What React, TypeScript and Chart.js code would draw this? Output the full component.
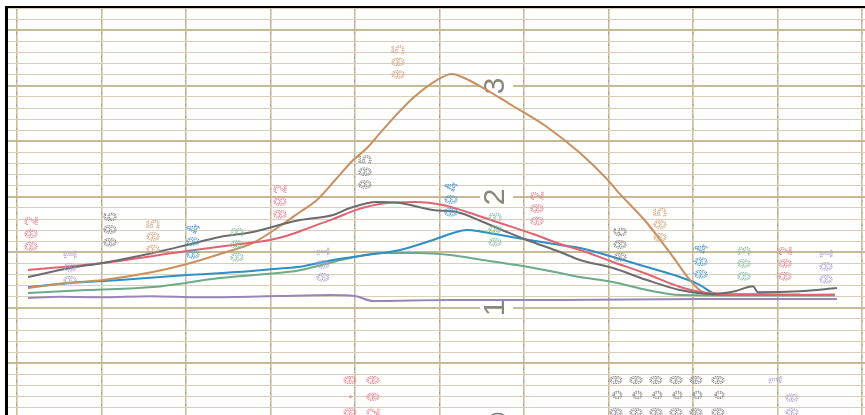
import React, { useEffect, useRef } from "react";
import { Chart, registerables } from "chart.js";

Chart.register(...registerables);

// x in chart-paper major divisions, y in minor divisions above the base line
const orangeX = [0.13, 0.592, 1.018, 1.609, 2.012, 2.402, 2.793, 3.112, 3.349, 3.55, 3.763, 3.976, 4.142, 4.296, 4.686, 4.97, 5.148, 5.266, 5.479, 5.87, 6.272, 6.663, 6.982, 7.101, 7.456, 7.763, 7.964, 8.118, 8.26, 8.793, 9.266];
const orangeY = [0.79, 1.24, 1.51, 2.23, 2.95, 3.86, 4.85, 6.38, 7.64, 8.72, 10.5, 12.3, 13.4, 14.75, 17.9, 19.53, 20.07, 19.8, 18.99, 17.19, 15.3, 12.95, 10.6, 9.55, 6.65, 3.59, 1.51, 0.43, 0.3, 0.25, 0.2];

const redX = [0.13, 1.018, 2.012, 2.556, 2.994, 3.195, 3.349, 3.503, 3.74, 4.024, 4.331, 4.71, 5.041, 5.325, 5.716, 6.107, 6.426, 6.663, 7.053, 7.456, 7.846, 8.083, 8.32, 9.03, 9.68];
const redY = [2.41, 3.05, 4.13, 4.67, 5.12, 5.5, 5.9, 6.35, 7.0, 7.85, 8.4, 8.54, 8.27, 7.64, 6.65, 5.66, 4.76, 4.22, 3.14, 2.05, 0.88, 0.43, 0.16, 0.16, 0.2];

const grayX = [0.13, 0.627, 1.018, 1.609, 2.012, 2.402, 2.793, 3.195, 3.349, 3.74, 3.941, 4.26, 4.533, 4.923, 5.207, 5.515, 5.799, 6.036, 6.426, 6.663, 7.053, 7.456, 7.846, 8.237, 8.497, 8.71, 8.769, 9.266, 9.704];
const grayY = [1.78, 2.59, 3.05, 3.95, 4.67, 5.39, 5.84, 6.65, 6.92, 7.37, 8.0, 8.54, 8.45, 7.82, 7.64, 6.74, 5.84, 5.12, 4.04, 3.32, 2.59, 1.51, 0.61, 0.25, 0.5, 0.95, 0.4, 0.5, 0.79];

const blueX = [0.13, 0.627, 1.219, 2.012, 2.604, 3.112, 3.349, 3.74, 4.142, 4.533, 4.923, 5.16, 5.325, 5.515, 5.917, 6.426, 6.663, 7.053, 7.456, 7.846, 8.083, 8.237, 8.438, 9.03];
const blueY = [0.88, 1.24, 1.51, 1.96, 2.23, 2.55, 2.7, 3.32, 3.77, 4.22, 5.12, 5.75, 6.02, 5.84, 5.3, 4.67, 4.4, 3.59, 2.68, 1.78, 1.06, 0.34, 0.16, 0.16];

const greenX = [0.13, 0.828, 1.609, 2.402, 3.195, 3.349, 3.941, 4.331, 4.734, 5.124, 5.515, 5.917, 6.426, 6.663, 7.053, 7.456, 7.846, 8.793, 9.68];
const greenY = [0.34, 0.61, 0.88, 1.69, 2.23, 2.4, 3.5, 3.95, 3.95, 3.77, 3.32, 2.86, 2.14, 1.78, 1.33, 0.61, 0.16, 0.12, 0.12];

const purpleX = [0.13, 0.509, 0.982, 1.574, 2.166, 2.757, 3.112, 3.704, 4.0, 4.213, 5.124, 6.426, 8.083, 9.704];
const purpleY = [-0.1, 0.0, -0.05, 0.05, -0.05, 0.0, 0.07, 0.16, 0.07, -0.38, -0.29, -0.29, -0.2, -0.2];

// grid ticks
const xTicks = [0, 1, 2, 3, 4, 5, 6, 7, 8, 9, 10];
const yTicks = Array.from({ length: 37 }, (_, i) => i - 10);

// pen labels printed along the trace
const labelText = ["002", "001", "006", "005", "004", "003", "002", "001", "005", "005", "004", "003", "002", "006", "005", "004", "003", "002", "001"];
const labelX = [0.19, 0.65, 1.12, 1.63, 2.11, 2.62, 3.14, 3.64, 4.14, 4.53, 5.16, 5.68, 6.17, 7.16, 7.63, 8.12, 8.62, 9.11, 9.6];
const labelY = [5.83, 2.77, 6.2, 5.57, 5.12, 4.85, 8.72, 3.04, 11.4, 21.3, 8.9, 6.2, 8.1, 4.85, 6.65, 3.3, 3.13, 3.13, 2.86];
const labelPen = ["red", "purple", "gray", "orange", "blue", "green", "red", "purple", "gray", "orange", "blue", "green", "red", "gray", "orange", "blue", "green", "red", "purple"];

// range numbers
const rangeText = ["3", "2", "1"];
const rangeX = [5.67, 5.67, 5.67];
const rangeY = [19, 9, -1];

// printed stamps at the bottom
const stampText = ["0", "0", "0", "0", "0", "0", "o", "o", "o", "o", "o", "o", "0", "0", "0", "0", "0", "0", "0", "·", "0", "0", "0", "2", "1", "0", "0"];
const stampX = [7.11, 7.35, 7.59, 7.82, 8.06, 8.32, 7.11, 7.35, 7.59, 7.82, 8.06, 8.32, 7.11, 7.35, 7.59, 7.82, 8.06, 8.32, 3.96, 3.96, 3.96, 4.24, 4.24, 4.24, 9.0, 9.2, 9.2];
const stampY = [-7.5, -7.5, -7.5, -7.5, -7.5, -7.5, -8.85, -8.85, -8.85, -8.85, -8.85, -8.85, -10.4, -10.4, -10.4, -10.4, -10.4, -10.4, -7.5, -9.0, -10.4, -7.5, -9.0, -10.4, -7.5, -9.1, -10.4];
const stampPen = ["gray", "gray", "gray", "gray", "gray", "gray", "gray", "gray", "gray", "gray", "gray", "gray", "gray", "gray", "gray", "gray", "gray", "gray", "red", "red", "red", "red", "red", "red", "purple", "purple", "purple"];

const penColor: Record<string, string> = {
  orange: "#c98f5f",
  red: "#e2636f",
  gray: "#6c6c70",
  blue: "#2f8fc8",
  green: "#6cab88",
  purple: "#9886b8",
};
const labelColor: Record<string, string> = {
  orange: "#d4a27a",
  red: "#e8828e",
  gray: "#85858a",
  blue: "#4a9bcc",
  green: "#86bd9f",
  purple: "#ae9fcc",
};

const X_MIN = -0.1065;
const X_MAX = 10.0355;
const Y_MIN = -10.649;
const Y_MAX = 26.018;

const pts = (xs: number[], ys: number[]) => xs.map((x, i) => ({ x, y: ys[i] }));

function drawRotated(ctx: CanvasRenderingContext2D, text: string, px: number, py: number, font: string, color: string, dotted: boolean, spacing: string) {
  ctx.save();
  ctx.translate(px, py);
  ctx.rotate(-Math.PI / 2);
  ctx.font = font;
  ctx.textAlign = "center";
  ctx.textBaseline = "middle";
  (ctx as any).letterSpacing = spacing;
  if (dotted) {
    ctx.setLineDash([1.3, 0.9]);
    ctx.lineWidth = 1;
    ctx.strokeStyle = color;
    ctx.strokeText(text, 0, 0);
  } else {
    ctx.fillStyle = color;
    ctx.fillText(text, 0, 0);
  }
  ctx.restore();
}

const rangePlugin = {
  id: "rangeNumbers",
  beforeDatasetsDraw(chart: any) {
    const { ctx, scales } = chart;
    rangeText.forEach((t, i) => {
      const px = scales.x.getPixelForValue(rangeX[i]);
      const py = scales.y.getPixelForValue(rangeY[i]);
      ctx.save();
      ctx.fillStyle = "#ffffff";
      ctx.fillRect(px - 16, py - 5, 33, 10);
      ctx.restore();
      drawRotated(ctx, t, px, py, "30px 'Liberation Sans'", "#8c8578", false, "0px");
    });
  },
};

const labelPlugin = {
  id: "penLabels",
  afterDatasetsDraw(chart: any) {
    const { ctx, scales } = chart;
    labelText.forEach((t, i) => {
      const px = scales.x.getPixelForValue(labelX[i]);
      const py = scales.y.getPixelForValue(labelY[i]);
      drawRotated(ctx, t, px, py, "16px 'DejaVu Sans Mono'", labelColor[labelPen[i]], true, "3px");
    });
    stampText.forEach((t, i) => {
      const px = scales.x.getPixelForValue(stampX[i]);
      const py = scales.y.getPixelForValue(stampY[i]);
      drawRotated(ctx, t, px, py, "15px 'DejaVu Sans Mono'", labelColor[stampPen[i]], true, "0px");
    });
    const cx = scales.x.getPixelForValue(5.69);
    const cy = scales.y.getPixelForValue(-11.5);
    ctx.save();
    ctx.beginPath();
    ctx.arc(cx, cy, 11, 0, Math.PI * 2);
    ctx.lineWidth = 1.5;
    ctx.strokeStyle = "#7a7a7a";
    ctx.stroke();
    ctx.restore();
  },
};

export default function App() {
  const canvasRef = useRef<HTMLCanvasElement | null>(null);

  useEffect(() => {
    const canvas = canvasRef.current;
    if (!canvas) return;
    const mk = (xs: number[], ys: number[], pen: string) => ({
      data: pts(xs, ys),
      borderColor: penColor[pen],
      borderWidth: 2,
      pointRadius: 0,
      fill: false,
      cubicInterpolationMode: "monotone" as const,
    });
    const chart = new Chart(canvas, {
      type: "line",
      data: {
        datasets: [
          mk(grayX, grayY, "gray"),
          mk(redX, redY, "red"),
          mk(orangeX, orangeY, "orange"),
          mk(blueX, blueY, "blue"),
          mk(greenX, greenY, "green"),
          mk(purpleX, purpleY, "purple"),
        ],
      },
      options: {
        animation: false,
        responsive: false,
        devicePixelRatio: 1,
        layout: { padding: 0 },
        plugins: { legend: { display: false }, tooltip: { enabled: false }, title: { display: false } },
        scales: {
          x: {
            type: "linear",
            min: X_MIN,
            max: X_MAX,
            afterBuildTicks: (s: any) => { s.ticks = xTicks.map((v) => ({ value: v })); },
            ticks: { display: false },
            border: { display: false },
            grid: { color: "#c9bb9c", lineWidth: 1.6, drawTicks: false },
          },
          x2: {
            type: "linear",
            position: "top",
            min: X_MIN,
            max: X_MAX,
            afterBuildTicks: (s: any) => { s.ticks = xTicks.map((v) => ({ value: v })); },
            ticks: { display: false },
            border: { display: false, dash: [2, 10] },
            grid: { color: "rgba(80,95,140,0.3)", lineWidth: 1, drawTicks: false },
          },
          y: {
            type: "linear",
            min: Y_MIN,
            max: Y_MAX,
            afterBuildTicks: (s: any) => { s.ticks = yTicks.map((v) => ({ value: v })); },
            ticks: { display: false },
            border: { display: false },
            grid: {
              drawTicks: false,
              color: (c: any) => (((c.tick?.value % 5) + 5) % 5 === 4 ? "#c8b996" : "#d9cfb8"),
              lineWidth: (c: any) => (((c.tick?.value % 5) + 5) % 5 === 4 ? 2 : 1),
            },
          },
        },
      } as any,
      plugins: [rangePlugin, labelPlugin],
    });
    return () => chart.destroy();
  }, []);

  return (
    <div style={{ position: "fixed", left: 0, top: 0, width: 865, height: 415, overflow: "hidden", background: "#fff" }}>
      <canvas ref={canvasRef} width={857} height={407} style={{ position: "absolute", left: 8, top: 8, display: "block" }} />
      <div style={{ position: "absolute", left: 5, top: 6, width: 860, height: 2, background: "#000" }} />
      <div style={{ position: "absolute", left: 5, top: 6, width: 3, height: 409, background: "#000" }} />
    </div>
  );
}
